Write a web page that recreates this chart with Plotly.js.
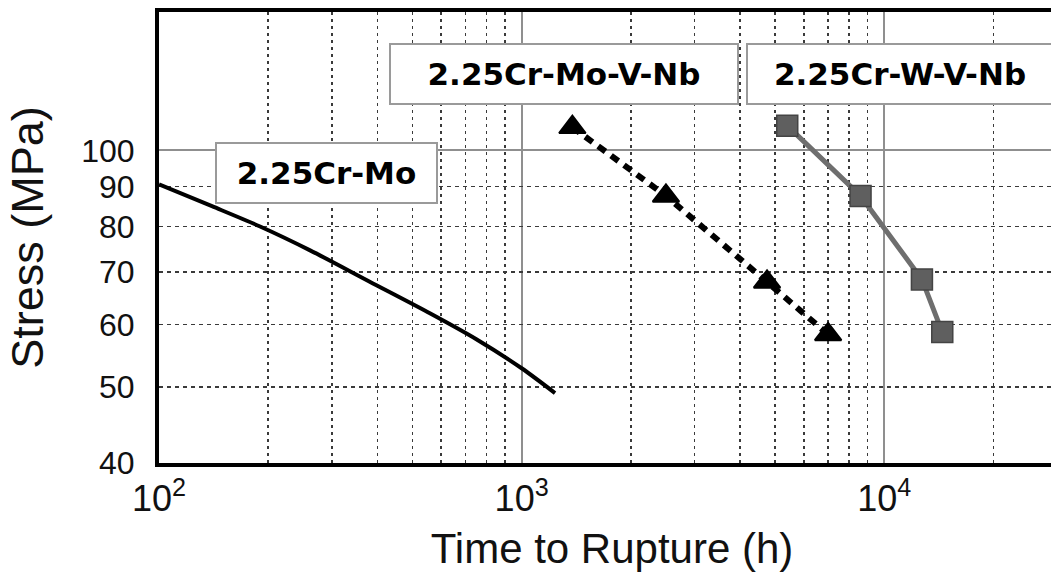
<!DOCTYPE html>
<html>
<head>
<meta charset="utf-8">
<script src="https://cdn.plot.ly/plotly-3.0.1.min.js"></script>
<style>
html,body{margin:0;padding:0;overflow:hidden;background:#fff;}
#chart{width:1100px;height:577px;}
</style>
</head>
<body>
<div id="chart"></div>
<script>
// ---- data ----
const crMoHours  = [100, 140, 190, 261, 380, 560, 750, 1000, 1236];
const crMoStress = [90.5, 84.9, 80, 74.6, 68.1, 62, 57.5, 52.8, 49.1];

const moVNbHours  = [1380, 2500, 4750, 7000];
const moVNbStress = [107, 87.5, 68, 58.3];

const wVNbHours  = [5400, 8600, 12700, 14450];
const wVNbStress = [107.5, 87.5, 68.5, 58.7];

const seriesNames = ['2.25Cr-Mo', '2.25Cr-Mo-V-Nb', '2.25Cr-W-V-Nb'];

const xMajorTicks = [100, 1000, 10000];
const xMajorText  = ['10<sup>2</sup>', '10<sup>3</sup>', '10<sup>4</sup>'];
const xMinorTicks = [200,300,400,500,600,700,800,900,2000,3000,4000,5000,6000,7000,8000,9000,20000,30000];
const stressTicks = [40, 50, 60, 70, 80, 90, 100];
const stressText  = ['40', '50', '60', '70', '80', '90', '100'];
const stressSolidGrid = [100];
const xRange = [100, 31500];
const yRange = [40, 150];

// ---- plot ----
const xTickFont = {family: 'Liberation Sans, Arial, sans-serif', size: 36, color: '#111'};
const yTickFont = {family: 'Liberation Sans, Arial, sans-serif', size: 32, color: '#111'};
const titleFont = {family: 'Liberation Sans, Arial, sans-serif', size: 42, color: '#111'};
const yTitleFont = {family: 'Liberation Sans, Arial, sans-serif', size: 45, color: '#111'};
const boxFont = {family: 'DejaVu Sans, sans-serif', size: 31, color: '#000', weight: 'bold'};

const traces = [
  {x: [], y: [], type: 'scatter', mode: 'lines', xaxis: 'x', yaxis: 'y2', hoverinfo: 'skip'},
  {x: crMoHours, y: crMoStress, name: seriesNames[0], type: 'scatter', mode: 'lines',
   line: {color: '#000', width: 4, shape: 'spline', smoothing: 0.8}},
  {x: moVNbHours, y: moVNbStress, name: seriesNames[1], type: 'scatter', mode: 'lines+markers',
   line: {color: '#000', width: 6, dash: '9px,7px'},
   marker: {symbol: 'triangle-up', size: 23, color: '#000', line: {color: '#000', width: 2}}},
  {x: wVNbHours, y: wVNbStress, name: seriesNames[2], type: 'scatter', mode: 'lines+markers',
   line: {color: '#6e6e6e', width: 5},
   marker: {symbol: 'square', size: 21, color: '#5f5f5f', line: {color: '#444', width: 1.5}}}
];

const L = 159, R = 35, T = 12, B = 114, W = 1100, H = 577;
const pw = W - L - R, ph = H - T - B;
function px(xp) { return (xp - L) / pw; }
function py(yp) { return (H - B - yp) / ph; }

const boxStyle = {xref: 'paper', yref: 'paper', showarrow: false, font: boxFont,
  bgcolor: '#fff', bordercolor: '#9a9a9a', borderwidth: 2, borderpad: 0, align: 'center',
  xanchor: 'center', yanchor: 'middle', height: 58};

const layout = {
  width: W, height: H,
  margin: {l: L, r: R, t: T, b: B},
  paper_bgcolor: '#fff', plot_bgcolor: '#fff',
  showlegend: false,
  xaxis: {
    type: 'log', range: xRange.map(Math.log10),
    tickmode: 'array', tickvals: xMajorTicks, ticktext: xMajorText,
    tickfont: xTickFont, ticks: '', ticklabelstandoff: 1,
    showgrid: true, gridcolor: '#8f8f8f', gridwidth: 2,
    minor: {tickmode: 'array', tickvals: xMinorTicks, showgrid: true, gridcolor: '#3a3a3a', gridwidth: 1.5, griddash: '3px,4px', ticks: ''},
    showline: true, linecolor: '#000', linewidth: 4, mirror: true,
    zeroline: false,
    title: {text: 'Time to Rupture (h)', font: titleFont, standoff: 16}
  },
  yaxis: {
    type: 'log', range: yRange.map(Math.log10),
    tickmode: 'array', tickvals: stressTicks, ticktext: stressText,
    tickfont: yTickFont, ticks: '', ticklabelstandoff: 14,
    showgrid: true, gridcolor: '#3a3a3a', gridwidth: 1.5, griddash: '4px,4px',
    showline: true, linecolor: '#000', linewidth: 4, mirror: true,
    zeroline: false,
    title: {text: 'Stress (MPa)', font: yTitleFont, standoff: 24}
  },
  yaxis2: {
    type: 'log', range: yRange.map(Math.log10), overlaying: 'y',
    tickmode: 'array', tickvals: stressSolidGrid, showticklabels: false, ticks: '',
    showgrid: true, gridcolor: '#8f8f8f', gridwidth: 2, showline: false, zeroline: false
  },
  annotations: [
    Object.assign({}, boxStyle, {text: seriesNames[0], x: px(326.5), y: py(173), width: 219}),
    Object.assign({}, boxStyle, {text: seriesNames[1], x: px(564), y: py(74), width: 346}),
    Object.assign({}, boxStyle, {text: seriesNames[2], x: px(900), y: py(74), width: 304})
  ]
};

Plotly.newPlot('chart', traces, layout, {displayModeBar: false, staticPlot: true});
</script>
</body>
</html>
